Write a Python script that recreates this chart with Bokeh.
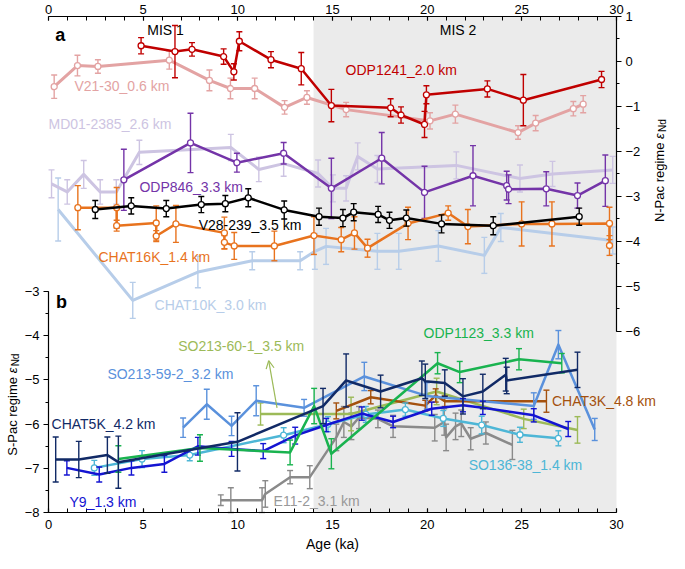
import math
from bokeh.plotting import figure
from bokeh.models import (Range1d, LinearAxis, FixedTicker, BoxAnnotation, Label,
                          Arrow, OpenHead, ColumnDataSource)
from bokeh.embed import file_html
from bokeh.resources import INLINE

FONT = "Liberation Sans"

# ---------------- data ----------------
x_ticks = [0, 5, 10, 15, 20, 25, 30]
x_minor = list(range(0, 31))
spac_ticks = [-8, -7, -6, -5, -4, -3]
npac_ticks = [-6, -5, -4, -3, -2, -1, 0, 1]
age_start, age_end = 0, 30
spac_bottom, spac_top = -8.0, 3.23     # left-scale values at the bottom / top axis lines
npac_top = 1.0
mis2_start = 14

# panel a (N-Pac regime, right axis)
odp1241_age = [4.89, 6.68, 7.58, 9.25, 9.79, 10.08, 11.75, 13.35, 14.94, 18.07, 18.62, 19.86, 19.96, 23.18, 25.08, 29.21]
odp1241_end = [0.35, 0.22, 0.27, 0.11, -0.23, 0.45, 0.04, -0.16, -0.98, -1.03, -1.19, -1.40, -0.74, -0.61, -0.86, -0.40]
odp1241_err = [0.18, 0.58, 0.15, 0.17, 0.18, 0.21, 0.18, 0.36, 0.36, 0.20, 0.18, 0.29, 0.20, 0.18, 0.57, 0.18]

v2130_age = [0.30, 1.53, 2.61, 6.38, 8.50, 9.61, 10.89, 12.47, 13.65, 15.72, 20.15, 21.49, 24.80, 25.73, 27.72, 28.24]
v2130_end = [-0.56, -0.09, -0.11, 0.03, -0.42, -0.60, -0.60, -1.02, -0.80, -1.07, -1.32, -1.17, -1.58, -1.37, -1.05, -0.95]
v2130_err = [0.26, 0.23, 0.15, 0.20, 0.23, 0.23, 0.23, 0.15, 0.15, 0.16, 0.18, 0.20, 0.15, 0.17, 0.16, 0.19]

md01_age = [0.16, 0.99, 1.86, 2.73, 3.58, 4.80, 9.63, 11.11, 12.42, 14.24, 15.02, 15.72, 16.33, 17.37, 21.54, 24.90, 26.62, 29.80]
md01_end = [-2.72, -2.90, -2.51, -2.90, -2.90, -2.02, -1.91, -2.40, -2.27, -2.49, -2.82, -2.82, -2.11, -2.39, -2.31, -2.60, -2.50, -2.41]
md01_err = [0.31, 0.27, 0.31, 0.27, 0.27, 0.27, 0.29, 0.27, 0.28, 0.30, 0.30, 0.28, 0.30, 0.30, 0.30, 0.30, 0.28, 0.30]

odp846_age = [3.98, 7.50, 9.95, 12.42, 14.94, 17.60, 19.86, 22.42, 24.20, 24.30, 26.29, 27.94, 29.41]
odp846_end = [-2.63, -1.81, -2.25, -2.04, -2.82, -2.15, -2.91, -2.54, -2.76, -2.84, -2.83, -2.98, -2.65]
odp846_err = [0.68, 0.66, 0.21, 0.24, 0.67, 0.57, 0.58, 0.67, 0.32, 0.32, 0.38, 0.28, 0.57]

v28239_age = [2.47, 4.37, 6.22, 8.07, 9.34, 10.55, 12.45, 14.29, 15.55, 16.12, 17.41, 18.01, 18.90, 20.76, 23.49, 28.03]
v28239_end = [-3.29, -3.21, -3.27, -3.18, -3.16, -3.03, -3.30, -3.45, -3.48, -3.35, -3.40, -3.53, -3.48, -3.61, -3.65, -3.45]
v28239_err = [0.20, 0.18, 0.18, 0.18, 0.18, 0.20, 0.20, 0.19, 0.19, 0.19, 0.18, 0.18, 0.18, 0.20, 0.20, 0.19]

chat16k_age = [1.55, 3.60, 3.60, 5.69, 5.69, 6.73, 9.29, 9.29, 9.81, 11.93, 14.02, 15.46, 16.16, 16.85, 18.99, 21.11, 22.15, 24.99, 26.59, 29.63, 29.63]
chat16k_end = [-3.25, -3.25, -3.65, -3.59, -3.88, -3.61, -3.81, -4.02, -4.10, -4.10, -3.87, -3.96, -3.81, -4.15, -3.60, -3.37, -3.67, -3.61, -3.61, -3.60, -4.09]
chat16k_err = [0.49, 0.45, 0.12, 0.38, 0.12, 0.41, 0.35, 0.15, 0.30, 0.33, 0.42, 0.27, 0.36, 0.20, 0.36, 0.16, 0.38, 0.49, 0.49, 0.36, 0.22]

chat10k_age = [0.51, 4.45, 7.89, 10.76, 13.29, 14.07, 14.66, 17.37, 18.50, 20.59, 23.02, 23.89, 29.80]
chat10k_end = [-3.29, -5.31, -4.68, -4.43, -4.43, -4.22, -4.11, -4.22, -4.22, -4.10, -4.31, -3.69, -3.98]
chat10k_err = [0.70, 0.40, 0.35, 0.20, 0.20, 0.40, 0.40, 0.40, 0.40, 0.34, 0.40, 0.31, 0.30]

# panel b (S-Pac regime, left axis)
so213592_age = [7.11, 8.36, 9.67, 10.97, 13.50, 16.68, 19.98, 25.63, 26.93, 28.85]
so213592_end = [-6.08, -5.55, -6.04, -5.47, -5.63, -4.92, -5.36, -5.59, -4.20, -6.12]
so213592_err = [0.22, 0.34, 0.22, 0.34, 0.19, 0.32, 0.30, 0.30, 0.32, 0.25]

chat5k_age = [0.38, 1.60, 3.11, 3.69, 9.98, 14.50, 15.72, 17.54, 19.72, 19.90, 20.93, 21.89, 22.94, 24.15, 24.20, 27.94]
chat5k_end = [-6.80, -6.80, -6.70, -6.86, -6.40, -5.59, -5.01, -5.26, -4.96, -5.03, -5.07, -5.37, -5.26, -4.88, -5.01, -4.77]
chat5k_err = [0.51, 0.41, 0.41, 0.59, 0.66, 0.40, 0.60, 0.37, 0.39, 0.39, 0.30, 0.40, 0.39, 0.37, 0.30, 0.40]

y9_age = [0.97, 2.68, 4.38, 6.12, 7.89, 9.67, 11.34, 13.03, 14.67, 16.55, 18.20, 20.24, 21.89, 22.94, 25.63, 27.45]
y9_end = [-6.99, -7.14, -6.99, -6.90, -6.50, -6.56, -6.61, -6.26, -6.02, -5.76, -5.95, -5.65, -5.57, -5.63, -5.80, -6.11]
y9_err = [0.16, 0.17, 0.16, 0.19, 0.20, 0.17, 0.17, 0.19, 0.15, 0.15, 0.13, 0.15, 0.15, 0.15, 0.15, 0.17]

so13638_age = [2.42, 4.94, 7.46, 12.42, 14.76, 16.76, 18.85, 20.85, 22.88, 24.90, 26.93]
so13638_end = [-6.99, -6.79, -6.70, -6.25, -6.00, -5.78, -5.67, -5.87, -6.02, -6.24, -6.32]
so13638_err = [0.17, 0.19, 0.13, 0.17, 0.17, 0.18, 0.15, 0.18, 0.20, 0.17, 0.17]

odp1123_age = [3.69, 8.00, 12.76, 14.03, 14.94, 20.55, 21.72, 24.85, 27.11]
odp1123_end = [-6.79, -6.54, -6.64, -5.59, -6.67, -4.62, -4.82, -4.53, -4.62]
odp1123_err = [0.30, 0.30, 0.28, 0.40, 0.34, 0.24, 0.24, 0.24, 0.22]

so213601_age = [11.20, 15.98, 20.50, 25.10, 27.94]
so213601_end = [-5.77, -5.77, -5.26, -5.88, -6.13]
so213601_err = [0.25, 0.38, 0.30, 0.22, 0.30]

chat3k_age = [15.20, 17.02, 19.90, 20.45, 20.93, 26.30]
chat3k_end = [-5.70, -5.39, -5.58, -5.35, -5.48, -5.48]
chat3k_err = [0.18, 0.15, 0.12, 0.15, 0.12, 0.25]

e112_age = [9.10, 9.63, 11.28, 11.45, 12.76, 13.80, 15.20, 15.60, 16.00, 16.40, 17.40, 18.20, 20.40, 20.90, 21.00, 21.50, 21.80, 22.30, 23.10, 24.50]
e112_end = [-7.72, -7.72, -7.72, -7.58, -7.20, -7.20, -6.30, -5.95, -6.05, -5.85, -5.88, -6.05, -6.08, -5.95, -6.30, -6.05, -5.98, -6.33, -6.20, -6.47]
e112_err = [0.12, 0.28, 0.28, 0.30, 0.15, 0.26, 0.30, 0.35, 0.30, 0.25, 0.20, 0.25, 0.30, 0.30, 0.30, 0.30, 0.30, 0.25, 0.25, 0.33]

# ---------------- layout (pixels) ----------------
W, H = 669, 553
AX_L, AX_R = 48.0, 616.0      # columns of the age-0 and age-30 axis lines
AX_T, AX_B = 16.0, 512.0      # rows of the top and bottom axis lines
NPAC_M6 = 330.9               # row of the -6 tick on the right scale

pxu = (AX_R - AX_L) / (age_end - age_start)
xr = Range1d(age_start - AX_L / pxu, age_end + (W - AX_R) / pxu)
pyl = (AX_B - AX_T) / (spac_top - spac_bottom)
yr_left = Range1d(spac_bottom - (H - AX_B) / pyl, spac_top + AX_T / pyl)
pyr = (NPAC_M6 - AX_T) / (npac_top - (-6))
yr_right = Range1d(npac_top - (H - AX_T) / pyr, npac_top + AX_T / pyr)

p = figure(width=W, height=H, x_range=xr, y_range=yr_left,
           x_axis_location=None, y_axis_location=None, output_backend="svg",
           toolbar_location=None, min_border_left=0, min_border_right=0,
           min_border_top=0, min_border_bottom=0)
p.extra_y_ranges = {"npac": yr_right}
p.outline_line_color = None
p.grid.visible = False
p.background_fill_color = "white"
p.border_fill_color = "white"

p.add_layout(BoxAnnotation(left=mis2_start, right=age_end, bottom=spac_bottom, top=spac_top,
                           fill_color="#ebebeb", fill_alpha=1.0, line_color=None,
                           level="underlay"))


def minus(v):
    return ("\u2212" + str(abs(v))) if v < 0 else str(v)


def style(ax, tick_in, tick_out, minor_in, minor_out, standoff):
    ax.axis_line_width = 1.2
    ax.axis_line_color = "black"
    ax.major_tick_in = tick_in
    ax.major_tick_out = tick_out
    ax.minor_tick_in = minor_in
    ax.minor_tick_out = minor_out
    ax.major_tick_line_width = 1.2
    ax.minor_tick_line_width = 1.0
    ax.major_tick_line_color = "black"
    ax.minor_tick_line_color = "black"
    ax.major_label_text_font = FONT
    ax.major_label_text_font_size = "13px"
    ax.major_label_text_color = "black"
    ax.major_label_standoff = standoff
    ax.axis_label_text_font = FONT
    ax.axis_label_text_font_size = "14px"
    ax.axis_label_text_font_style = "normal"
    ax.axis_label_text_color = "black"


xb = LinearAxis(ticker=FixedTicker(ticks=x_ticks, minor_ticks=x_minor), axis_label="Age (ka)",
                bounds=(age_start, age_end), fixed_location=spac_bottom)
style(xb, 4, 0, 4, 0, 7)
xb.axis_label_standoff = 4
p.add_layout(xb, "below")

xt = LinearAxis(ticker=FixedTicker(ticks=x_ticks, minor_ticks=x_minor),
                bounds=(age_start, age_end), fixed_location=spac_top)
style(xt, 4, 0, 4, 0, 3)
p.add_layout(xt, "above")

yl = LinearAxis(ticker=FixedTicker(ticks=spac_ticks, minor_ticks=[v / 2 for v in range(-16, -5)]),
                bounds=(-8, -3), fixed_location=age_start)
style(yl, 0, 5, 0, 3, 4)
yl.major_label_overrides = {float(v): minus(v) for v in spac_ticks}
p.add_layout(yl, "left")

yr = LinearAxis(y_range_name="npac",
                ticker=FixedTicker(ticks=npac_ticks, minor_ticks=[v / 2 for v in range(-12, 3)]),
                bounds=(-6, 1), fixed_location=age_end)
style(yr, 0, 5, 0, 3, 4)
yr.major_label_overrides = {float(v): minus(v) for v in npac_ticks}
p.add_layout(yr, "right")


def draw(age, val, err, color, lw=2.5, marker=False, rng="default"):
    src = ColumnDataSource(dict(x=age, y=val,
                                lo=[a - b for a, b in zip(val, err)],
                                hi=[a + b for a, b in zip(val, err)]))
    p.segment(x0="x", y0="lo", x1="x", y1="hi", source=src, line_color=color,
              line_width=1.4, y_range_name=rng)
    p.scatter(x="x", y="lo", source=src, marker="dash", size=6, line_color=color,
              line_width=1.4, y_range_name=rng)
    p.scatter(x="x", y="hi", source=src, marker="dash", size=6, line_color=color,
              line_width=1.4, y_range_name=rng)
    p.line(x="x", y="y", source=src, line_color=color, line_width=lw,
           line_join="round", y_range_name=rng)
    if marker:
        p.scatter(x="x", y="y", source=src, marker="circle", size=6, fill_color="white",
                  line_color=color, line_width=1.3, y_range_name=rng)


C_ODP1241 = "#c00000"
C_V2130 = "#e3a3a3"
C_MD01 = "#cdc4e2"
C_ODP846 = "#7434a8"
C_V28 = "#000000"
C_CHAT16K = "#e8731e"
C_CHAT10K = "#b7cde9"
C_SO592 = "#5a91dc"
C_CHAT5K = "#112a66"
C_Y9 = "#1414d2"
C_SO136 = "#4db6d6"
C_ODP1123 = "#19b34f"
C_SO601 = "#9cba58"
C_CHAT3K = "#a4510e"
C_E112 = "#8a8a8a"

# panel a
draw(chat10k_age, chat10k_end, chat10k_err, C_CHAT10K, lw=3, rng="npac")
draw(md01_age, md01_end, md01_err, C_MD01, lw=3, rng="npac")
draw(v2130_age, v2130_end, v2130_err, C_V2130, lw=3, marker=True, rng="npac")
draw(odp846_age, odp846_end, odp846_err, C_ODP846, marker=True, rng="npac")
draw(chat16k_age, chat16k_end, chat16k_err, C_CHAT16K, marker=True, rng="npac")
draw(v28239_age, v28239_end, v28239_err, C_V28, marker=True, rng="npac")
draw(odp1241_age, odp1241_end, odp1241_err, C_ODP1241, marker=True, rng="npac")

# panel b
draw(e112_age, e112_end, e112_err, C_E112)
draw(so213601_age, so213601_end, so213601_err, C_SO601)
draw(chat3k_age, chat3k_end, chat3k_err, C_CHAT3K)
draw(so13638_age, so13638_end, so13638_err, C_SO136, marker=True)
draw(so213592_age, so213592_end, so213592_err, C_SO592)
draw(y9_age, y9_end, y9_err, C_Y9)
draw(odp1123_age, odp1123_end, odp1123_err, C_ODP1123)
draw(chat5k_age, chat5k_end, chat5k_err, C_CHAT5K)

p.add_layout(Arrow(end=OpenHead(size=8, line_color=C_SO601, line_width=1.2),
                   x_start=12.07, y_start=-5.63, x_end=11.63, y_end=-4.56,
                   line_color=C_SO601, line_width=1.2))


def lab(x, y, text, color, size="14px", align="left", baseline="middle", fstyle="normal",
        angle=0.0, xo=0, yo=0):
    p.add_layout(Label(x=x, y=y, text=text, text_color=color, text_font=FONT,
                       text_font_size=size, text_align=align, text_baseline=baseline,
                       text_font_style=fstyle, angle=angle, x_offset=xo, y_offset=yo))


lab(0.35, 2.80, "a", "black", size="18px", baseline="alphabetic", fstyle="bold")
lab(0.40, -3.24, "b", "black", size="18px", baseline="alphabetic", fstyle="bold")
lab(6.18, 2.93, "MIS 1", "black", size="14px", align="center")
lab(21.63, 2.93, "MIS 2", "black", size="14px", align="center")

lab(1.37, 1.66, "V21-30_0.6 km", C_V2130)
lab(15.69, 2.03, "ODP1241_2.0 km", C_ODP1241)
lab(0.0, 0.80, "MD01-2385_2.6 km", C_MD01)
lab(4.80, -0.62, "ODP846_3.3 km", C_ODP846)
lab(7.93, -1.49, "V28-239_3.5 km", "black")
lab(2.64, -2.21, "CHAT16K_1.4 km", C_CHAT16K)
lab(5.60, -3.30, "CHAT10K_3.0 km", C_CHAT10K)

lab(6.85, -4.23, "SO213-60-1_3.5 km", C_SO601)
lab(3.11, -4.86, "SO213-59-2_3.2 km", C_SO592)
lab(19.81, -3.94, "ODP1123_3.3 km", C_ODP1123)
lab(26.59, -5.47, "CHAT3K_4.8 km", C_CHAT3K)
lab(0.16, -6.00, "CHAT5K_4.2 km", C_CHAT5K)
lab(22.19, -6.93, "SO136-38_1.4 km", C_SO136)
lab(1.11, -7.77, "Y9_1.3 km", C_Y9)
lab(11.89, -7.75, "E11-2_3.1 km", "#999999")

# rotated axis titles (with italic epsilon and subscript Nd)
ang = math.pi / 2
for (tx, ty, txt) in [(-1.92, -4.85, "S-Pac regime "), (32.28, 0.456, "N-Pac regime ")]:
    lab(tx, ty, txt, "black", size="13px", align="right", baseline="alphabetic", angle=ang)
    lab(tx, ty, "\u03b5", "black", size="13px", align="left", baseline="alphabetic",
        fstyle="italic", angle=ang)
    lab(tx, ty, "Nd", "black", size="10px", align="left", baseline="alphabetic",
        angle=ang, xo=3, yo=7)

open("out.html", "w").write(file_html(p, INLINE))
